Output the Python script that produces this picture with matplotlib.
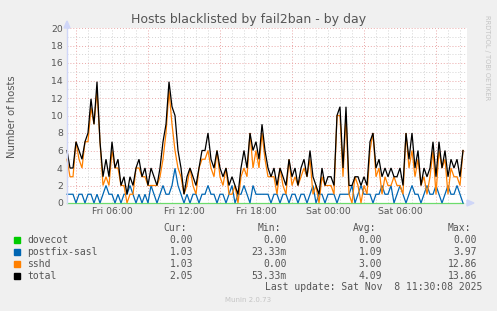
import matplotlib
matplotlib.use('Agg')
import matplotlib.pyplot as plt
from matplotlib.patches import Polygon, Rectangle


# hosts, every 15 minutes starting Fri 02:15
total = [6, 4, 4, 7, 6, 5, 7, 8, 11.9, 9,
         13.86, 7, 3, 5, 3, 7, 4, 5, 2, 3,
         1, 3, 2, 4, 5, 3, 4, 2, 4, 3,
         2, 4, 7, 9, 13.86, 11, 10, 6, 4, 1,
         3, 4, 3, 2, 4, 6, 6, 8, 5, 4,
         6, 4, 3, 4, 2, 3, 2, 1, 4, 6,
         4, 8, 6, 7, 5, 9, 6, 4, 3, 4,
         2, 4, 3, 2, 5, 3, 4, 2, 4, 5,
         3, 6, 3, 2, 1, 4, 2, 3, 3, 2,
         10, 11, 4, 11, 2, 2, 3, 3, 2, 3,
         2, 7, 8, 4, 5, 3, 4, 3, 4, 3,
         3, 4, 2, 8, 5, 8, 4, 6, 2, 4,
         3, 4, 7, 3, 7, 4, 6, 3, 5, 4,
         5, 3, 6]
postfix_sasl = [1, 1, 1, 0, 1, 1, 0, 1, 1, 0,
                1, 0, 1, 2, 1, 1, 0, 1, 0, 1,
                1, 2, 1, 0, 1, 0, 1, 0, 2, 1,
                0, 1, 2, 1, 1, 2, 3.97, 2, 1, 0,
                1, 0, 1, 1, 0, 1, 1, 2, 1, 1,
                0, 1, 1, 0, 1, 2, 0, 1, 1, 2,
                1, 0, 2, 1, 1, 1, 1, 1, 0, 1,
                1, 0, 1, 1, 0, 1, 1, 0, 1, 1,
                0, 1, 2, 0, 1, 1, 0, 1, 1, 1,
                0, 1, 1, 1, 1, 2, 0, 1, 2, 1,
                1, 1, 0, 1, 1, 2, 1, 1, 2, 0,
                1, 2, 1, 0, 1, 2, 1, 1, 0, 1,
                2, 1, 1, 2, 1, 0, 1, 2, 1, 1,
                2, 1, 0]
sshd = [5, 3, 3, 7, 5, 4, 7, 7, 10.9, 9,
        12.86, 7, 2, 3, 2, 6, 4, 4, 2, 2,
        0, 1, 1, 4, 4, 3, 3, 2, 2, 2,
        2, 3, 5, 8, 12.86, 9, 6, 4, 3, 1,
        2, 4, 2, 1, 4, 5, 5, 6, 4, 3,
        6, 3, 2, 4, 1, 1, 2, 0, 3, 4,
        3, 8, 4, 6, 4, 8, 5, 3, 3, 3,
        1, 4, 2, 1, 5, 2, 3, 2, 3, 4,
        3, 5, 1, 2, 0, 3, 2, 2, 2, 1,
        10, 10, 3, 10, 1, 0, 3, 2, 0, 2,
        1, 6, 8, 3, 4, 1, 3, 2, 2, 3,
        2, 2, 1, 8, 4, 6, 3, 5, 2, 3,
        1, 3, 6, 1, 6, 4, 5, 1, 4, 3,
        3, 2, 6]
dovecot = [0] * len(total)

tick_hours = [6, 12, 18, 24, 30]
tick_labels = ['Fri 06:00', 'Fri 12:00', 'Fri 18:00', 'Sat 00:00', 'Sat 06:00']

series_names = ['dovecot', 'postfix-sasl', 'sshd', 'total']
series_colors = ['#00cc00', '#0066b3', '#ff8000', '#000000']
cur_vals = ['0.00', '1.03', '1.03', '2.05']
min_vals = ['0.00', '23.33m', '0.00', '53.33m']
avg_vals = ['0.00', '1.09', '3.00', '4.09']
max_vals = ['0.00', '3.97', '12.86', '13.86']

W, H = 497, 311
TEXT = '#555555'
MONO = 'DejaVu Sans Mono'


def fx(x):
    return x / W


def fy(y):
    return 1 - y / H


fig = plt.figure(figsize=(W / 100, H / 100), dpi=100, facecolor='#f0f0f0')
ax = fig.add_axes([fx(67), fy(203), 400 / W, 175 / H])
ax.set_facecolor('white')

hours = [2.25 + 0.25 * i for i in range(len(total))]
for vals, col in zip([dovecot, postfix_sasl, sshd, total], series_colors):
    # the zero line sits on the axis, half of it gets blended like in rrdtool
    a = 0.55 if col == '#00cc00' else 1
    ax.plot(hours, vals, color=col, lw=0.9, alpha=a, clip_on=False,
            solid_joinstyle='miter')

ax.set_xlim(2.25, 2.25 + 400 / 12)
ax.set_ylim(0, 20)

# grid: minor every hour / every 1, major every 6h (offset by 3h) / every 2
for h in range(3, 36):
    major = h % 6 == 3
    ax.axvline(h, color='#eaa8a8' if major else '#d4d4d4', lw=0.7,
               ls=(0, (1, 2)), zorder=0)
for v in range(1, 21):
    major = v % 2 == 0
    ax.axhline(v, color='#eaa8a8' if major else '#d4d4d4', lw=0.7,
               ls=(0, (1, 2)), zorder=0)

ax.set_xticks(tick_hours)
ax.set_xticklabels(tick_labels)
ax.set_yticks(range(0, 21, 2))
ax.tick_params(length=0, labelsize=6.7, colors=TEXT, pad=3)
for s in ['top', 'right', 'bottom']:
    ax.spines[s].set_visible(False)
ax.spines['left'].set_color('#cfd6f8')
ax.spines['left'].set_linewidth(1)

# arrows
fig.add_artist(Polygon([[fx(64), fy(28)], [fx(70), fy(28)], [fx(67), fy(21)]],
                       closed=True, color='#cfd6f8', transform=fig.transFigure))
fig.add_artist(Polygon([[fx(467), fy(200)], [fx(467), fy(206)], [fx(474), fy(203)]],
                       closed=True, color='#cfd6f8', transform=fig.transFigure))

fig.text(fx(249), fy(19), 'Hosts blacklisted by fail2ban - by day',
         ha='center', va='center', fontsize=9, color=TEXT)
fig.text(fx(12), fy(117), 'Number of hosts', rotation=90,
         ha='center', va='center', fontsize=7.2, color=TEXT)
fig.text(fx(487), fy(58), 'RRDTOOL / TOBI OETIKER', rotation=270,
         ha='center', va='center', fontsize=4.8, color='#c4c4c4')

# legend table
headers = ['Cur:', 'Min:', 'Avg:', 'Max:']
col_right = [193, 287, 382, 477]
for hdr, xr in zip(headers, col_right):
    fig.text(fx(xr - 6), fy(228), hdr, ha='right', va='center',
             fontsize=7, family=MONO, color=TEXT)
rows_y = [240, 252, 264, 276]
for i, name in enumerate(series_names):
    y = rows_y[i]
    fig.add_artist(Rectangle((fx(14), fy(y + 3)), 6 / W, 6 / H,
                             color=series_colors[i], transform=fig.transFigure))
    fig.text(fx(27), fy(y), name, ha='left', va='center',
             fontsize=7, family=MONO, color=TEXT)
    for vals, xr in zip([cur_vals, min_vals, avg_vals, max_vals], col_right):
        fig.text(fx(xr), fy(y), vals[i], ha='right', va='center',
                 fontsize=7, family=MONO, color=TEXT)

fig.text(fx(482), fy(287), 'Last update: Sat Nov  8 11:30:08 2025',
         ha='right', va='center', fontsize=7, family=MONO, color=TEXT)
fig.text(fx(248), fy(300), 'Munin 2.0.73', ha='center', va='center',
         fontsize=5, color='#c4c4c4')

fig.savefig('out.png', dpi=100, facecolor=fig.get_facecolor())
